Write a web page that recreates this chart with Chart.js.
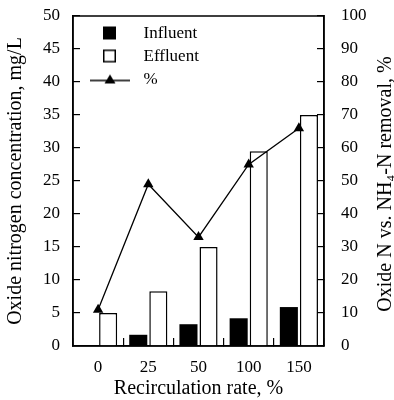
<!DOCTYPE html>
<html>
<head>
<meta charset="utf-8">
<script src="https://cdn.jsdelivr.net/npm/chart.js@4.4.1/dist/chart.umd.min.js"></script>
<style>
  html, body { margin: 0; padding: 0; background: #fff; }
  #wrap { width: 394px; height: 400px; }
</style>
</head>
<body>
<div id="wrap"><canvas id="myChart"></canvas></div>
<script>
var categories = ['0', '25', '50', '100', '150'];
var influent = [0, 1.7, 3.3, 4.2, 5.9];
var effluent = [5.0, 8.3, 15.0, 29.5, 35.0];
var removal = [11, 49, 33, 55, 66];
var legendLabels = ['Influent', 'Effluent', '%'];
var rightTitle = 'Oxide N vs. NH\u2084-N removal, %';

var FONT = '"Liberation Serif", "Times New Roman", serif';

// legend markers: filled square, open square, line with triangle
function marker(kind) {
    var c = document.createElement('canvas');
    c.width = 52; c.height = 16;
    var g = c.getContext('2d');
    g.strokeStyle = '#000';
    g.fillStyle = '#000';
    g.lineWidth = 1.5;
    if (kind === 'fill') {
        g.fillRect(20, 1, 13, 13);
    } else if (kind === 'open') {
        g.fillStyle = '#fff';
        g.fillRect(20, 1, 13, 13);
        g.strokeRect(20.75, 1.75, 11.5, 11.5);
    } else {
        g.beginPath();
        g.moveTo(7, 9); g.lineTo(47, 9);
        g.stroke();
        g.beginPath();
        g.moveTo(27, 3); g.lineTo(32.5, 12); g.lineTo(21.5, 12);
        g.closePath();
        g.fill();
    }
    return c;
}
var markers = [marker('fill'), marker('open'), marker('line')];

var framePlugin = {
    id: 'frame',
    afterLayout: function(chart) {
        // keep the legend inside the plot, top left
        var l = chart.legend, a = chart.chartArea;
        if (!l) return;
        l.top = a.top + 3;
        l.bottom = a.bottom;
        l.height = l.bottom - l.top;
        l.left = a.left + 4;
    },
    afterDraw: function(chart) {
        var ctx = chart.ctx, a = chart.chartArea;
        ctx.save();
        ctx.strokeStyle = '#000';
        ctx.lineWidth = 1.5;
        ctx.strokeRect(a.left, a.top, a.right - a.left, a.bottom - a.top);
        // right axis title reads bottom to top
        ctx.fillStyle = '#000';
        ctx.font = '20px ' + FONT;
        ctx.textAlign = 'center';
        ctx.textBaseline = 'middle';
        ctx.translate(386, 184);
        ctx.rotate(-Math.PI / 2);
        ctx.fillText(rightTitle, 0, 0);
        ctx.restore();
    }
};

function fixWidth(w) {
    return function(s) {
        s.width = w;
        s.paddingTop = 0;
        s.paddingBottom = 0;
    };
}

document.addEventListener('DOMContentLoaded', function(){
    var data = {
        labels: categories,
        datasets: [{
            type: 'bar',
            label: legendLabels[0],
            data: influent,
            backgroundColor: '#000',
            borderColor: '#000',
            borderWidth: 0,
            yAxisID: 'y',
            order: 1
        }, {
            type: 'bar',
            label: legendLabels[1],
            data: effluent,
            backgroundColor: '#fff',
            borderColor: '#000',
            borderWidth: 1.5,
            yAxisID: 'y',
            order: 1
        }, {
            type: 'line',
            label: legendLabels[2],
            data: removal,
            borderColor: '#000',
            backgroundColor: '#000',
            borderWidth: 1.3,
            pointStyle: 'triangle',
            pointRadius: 6,
            pointBorderWidth: 0,
            tension: 0,
            yAxisID: 'y1',
            order: 0
        }]
    };
    var options = {
        responsive: true,
        maintainAspectRatio: false,
        animation: false,
        layout: { padding: { top: 16, right: 0, left: 0, bottom: 0 } },
        plugins: {
            tooltip: { enabled: false },
            legend: {
                position: 'chartArea',
                fullSize: false,
                align: 'start',
                labels: {
                    usePointStyle: true,
                    pointStyleWidth: 52,
                    padding: 6,
                    color: '#000',
                    font: { family: FONT, size: 17 },
                    generateLabels: function(chart) {
                        return legendLabels.map(function(t, i) {
                            return {
                                text: t,
                                datasetIndex: i,
                                pointStyle: markers[i],
                                fillStyle: '#000',
                                strokeStyle: '#000',
                                lineWidth: 0,
                                fontColor: '#000',
                                hidden: false
                            };
                        });
                    }
                }
            }
        },
        scales: {
            x: {
                categoryPercentage: 0.6,
                barPercentage: 1.0,
                afterFit: function(s){ s.height = 54; },
                border: { color: '#000', width: 1.5 },
                grid: { drawOnChartArea: false, tickLength: -8, color: '#000', lineWidth: 1.2 },
                ticks: { color: '#000', padding: 19, font: { family: FONT, size: 17 } },
                title: { display: true, text: 'Recirculation rate, %', color: '#000', padding: { top: 0, bottom: 0 }, font: { family: FONT, size: 20, lineHeight: 1.1 } }
            },
            y: {
                position: 'left',
                min: 0, max: 50,
                afterFit: fixWidth(73),
                ticks: { stepSize: 5, color: '#000', padding: 20, font: { family: FONT, size: 17 } },
                border: { color: '#000', width: 1.5 },
                grid: { drawOnChartArea: false, tickLength: -7, color: '#000', lineWidth: 1.2 },
                title: { display: true, text: 'Oxide nitrogen concentration, mg/L', color: '#000', padding: { top: 4, bottom: 0 }, font: { family: FONT, size: 20 } }
            },
            y1: {
                position: 'right',
                min: 0, max: 100,
                afterFit: fixWidth(70),
                ticks: { stepSize: 10, color: '#000', padding: 24, font: { family: FONT, size: 17 } },
                border: { color: '#000', width: 1.5 },
                grid: { drawOnChartArea: false, tickLength: -7, color: '#000', lineWidth: 1.2 }
            }
        }
    };
    var ctx = document.getElementById('myChart').getContext('2d');
    var myChart = new Chart(ctx, {
        data: data,
        options: options,
        plugins: [framePlugin]
    });
});
</script>
</body>
</html>
